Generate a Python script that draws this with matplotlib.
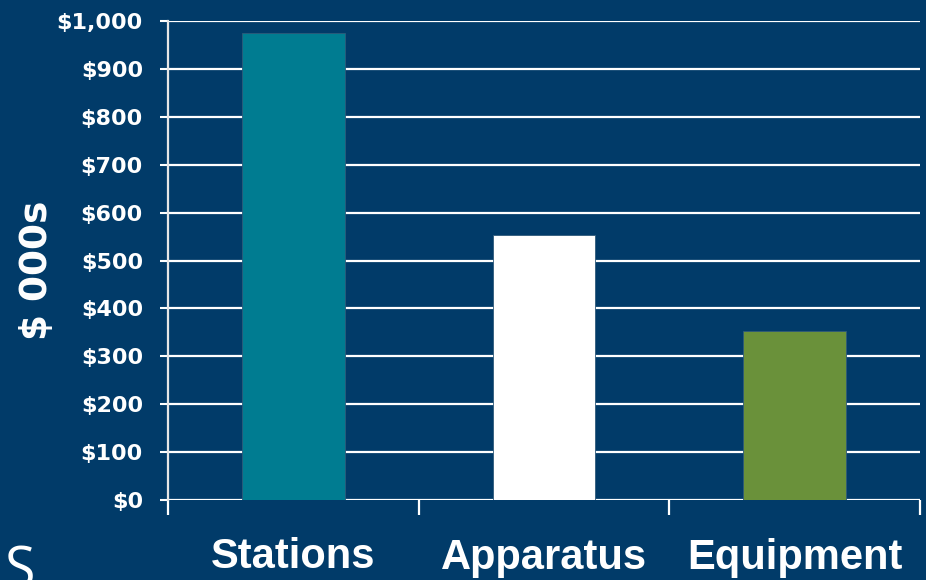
import numpy as np
import matplotlib.pyplot as plt

# values in $ 000s
categories = ['Stations', 'Apparatus', 'Equipment']
values = [975, 553, 353]
colors = ['#007C91', '#FFFFFF', '#6A913A']
yticks = np.arange(0, 1001, 100)
ytick_labels = ['${:,}'.format(v) for v in yticks]

bg = '#013B69'

fig = plt.figure(figsize=(9.26, 5.8), dpi=100, facecolor=bg)
ax = fig.add_axes([168/926, 80/580, 752/926, 479/580], facecolor=bg)

x = np.arange(len(categories))
ax.bar(x, values, width=0.41, color=colors, edgecolor='#2E5A7A', linewidth=0.6, zorder=3)

ax.set_xlim(-0.5, 2.5)
ax.set_ylim(0, 1000)

ax.set_yticks(yticks)
ax.set_yticklabels(ytick_labels, fontsize=16, fontweight='bold', color='white',
                   family='DejaVu Sans')
ax.yaxis.grid(True, color='white', linewidth=1.6, zorder=1)
ax.tick_params(axis='y', length=6, width=1.5, color='white', pad=12)

# ticks at category boundaries, labels at centres
ax.set_xticks([-0.5, 0.5, 1.5, 2.5])
ax.set_xticklabels([])
ax.tick_params(axis='x', which='major', length=11, width=1.6, color='white')
ax.set_xticks(x, minor=True)
ax.set_xticklabels(categories, minor=True, fontsize=30, fontweight='bold',
                   color='white', family='Liberation Sans')
ax.tick_params(axis='x', which='minor', length=0, pad=27)

fig.text(37/926, 1 - 270/580, '$ 000s', fontsize=27, fontweight='bold', color='white',
         rotation=90, ha='center', va='center')

for s in ['top', 'right', 'bottom']:
    ax.spines[s].set_visible(False)
ax.spines['left'].set_color('#E6E6E6')
ax.spines['left'].set_linewidth(1.6)
ax.spines['left'].set_bounds(0, 1000)

fig.text(4/926, -7/580, 'S', fontsize=40, color='white', ha='left', va='baseline',
         family='Open Sans')

fig.savefig('out.png', dpi=100, facecolor=bg)
